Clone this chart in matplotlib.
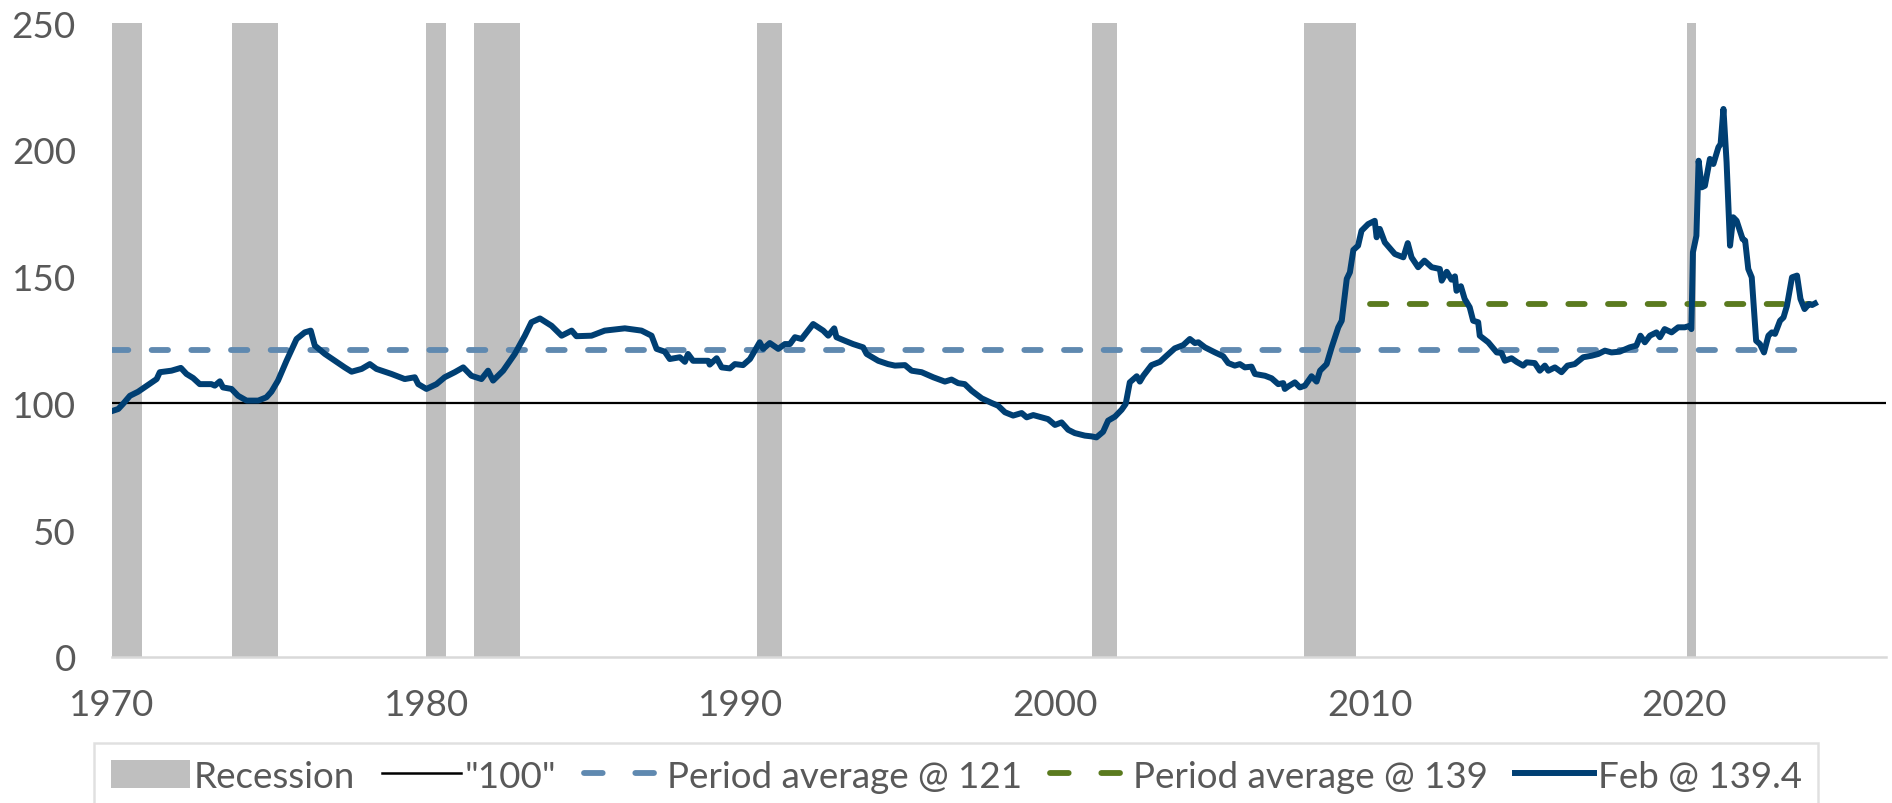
import matplotlib.pyplot as plt
from matplotlib.patches import Patch
from matplotlib.lines import Line2D

plt.rcParams['font.family'] = ['Lato', 'DejaVu Sans']

# monthly-ish readings of the index (decimal years)
years = [1970.03, 1970.2, 1970.35, 1970.57, 1970.83, 1971.15, 1971.42, 1971.52, 1971.89, 1972.19,
         1972.37, 1972.58, 1972.79, 1973.16, 1973.27, 1973.43, 1973.53, 1973.8, 1974.01, 1974.28,
         1974.65, 1974.91, 1975.07, 1975.28, 1975.55, 1975.87, 1976.13, 1976.32, 1976.45, 1976.77,
         1977.09, 1977.4, 1977.62, 1977.94, 1978.2, 1978.41, 1978.89, 1979.31, 1979.63, 1979.74,
         1980.0, 1980.32, 1980.58, 1980.9, 1981.17, 1981.43, 1981.75, 1981.96, 1982.12, 1982.44,
         1982.81, 1983.13, 1983.34, 1983.61, 1983.98, 1984.3, 1984.62, 1984.77, 1985.25, 1985.67,
         1986.31, 1986.84, 1987.16, 1987.32, 1987.58, 1987.74, 1988.06, 1988.22, 1988.32, 1988.48,
         1988.96, 1989.01, 1989.23, 1989.39, 1989.65, 1989.81, 1990.07, 1990.29, 1990.6, 1990.71,
         1990.92, 1991.19, 1991.4, 1991.56, 1991.72, 1991.93, 1992.3, 1992.62, 1992.78, 1992.97,
         1993.04, 1993.31, 1993.57, 1993.89, 1994.0, 1994.37, 1994.68, 1994.9, 1995.22, 1995.43,
         1995.75, 1996.12, 1996.49, 1996.7, 1996.91, 1997.12, 1997.34, 1997.66, 1997.97, 1998.18,
         1998.4, 1998.66, 1998.93, 1999.09, 1999.3, 1999.56, 1999.77, 1999.99, 2000.2, 2000.41,
         2000.62, 2000.94, 2001.15, 2001.31, 2001.52, 2001.68, 2001.9, 2002.11, 2002.24, 2002.37,
         2002.59, 2002.69, 2002.8, 2003.06, 2003.33, 2003.54, 2003.8, 2004.07, 2004.28, 2004.44,
         2004.55, 2004.76, 2005.08, 2005.34, 2005.5, 2005.71, 2005.87, 2006.03, 2006.24, 2006.35,
         2006.67, 2006.88, 2007.09, 2007.25, 2007.3, 2007.41, 2007.62, 2007.78, 2007.94, 2008.15,
         2008.31, 2008.42, 2008.63, 2008.79, 2009.0, 2009.11, 2009.27, 2009.37, 2009.48, 2009.63,
         2009.74, 2009.95, 2010.16, 2010.22, 2010.32, 2010.48, 2010.8, 2011.07, 2011.21, 2011.33,
         2011.54, 2011.74, 2011.97, 2012.23, 2012.29, 2012.45, 2012.6, 2012.71, 2012.76, 2012.9,
         2013.02, 2013.18, 2013.29, 2013.45, 2013.5, 2013.77, 2014.04, 2014.19, 2014.3, 2014.51,
         2014.67, 2014.88, 2014.99, 2015.25, 2015.41, 2015.57, 2015.68, 2015.89, 2016.1, 2016.29,
         2016.52, 2016.79, 2017.06, 2017.27, 2017.48, 2017.69, 2017.95, 2018.27, 2018.48, 2018.61,
         2018.75, 2018.91, 2019.12, 2019.23, 2019.38, 2019.6, 2019.81, 2020.02, 2020.18, 2020.23,
         2020.28, 2020.39, 2020.46, 2020.56, 2020.66, 2020.82, 2020.93, 2021.09, 2021.16, 2021.25,
         2021.35, 2021.46, 2021.56, 2021.67, 2021.86, 2021.94, 2022.04, 2022.15, 2022.29, 2022.41,
         2022.54, 2022.68, 2022.79, 2022.89, 2023.05, 2023.16, 2023.27, 2023.43, 2023.59, 2023.7,
         2023.83, 2023.97, 2024.07, 2024.16]
index = [97.1, 97.8, 99.8, 103.0, 104.6, 107.3, 109.6, 112.3, 112.9, 114.0,
         111.6, 110.0, 107.6, 107.6, 107.0, 108.7, 106.3, 105.7, 103.0, 101.1,
         101.1, 102.4, 104.6, 109.0, 116.8, 125.4, 128.0, 128.7, 122.8, 119.5,
         116.8, 114.2, 112.5, 113.6, 115.5, 113.6, 111.6, 109.6, 110.3, 107.6,
         105.7, 107.6, 110.3, 112.3, 114.2, 110.9, 109.6, 112.9, 109.0, 112.9,
         119.5, 126.7, 132.0, 133.5, 130.6, 126.7, 128.7, 126.5, 126.7, 128.7,
         129.6, 128.7, 126.7, 121.5, 120.4, 117.5, 118.2, 116.4, 119.5, 116.8,
         116.8, 115.3, 117.8, 114.2, 113.8, 115.5, 115.1, 117.5, 124.1, 121.5,
         123.8, 121.5, 123.4, 123.4, 126.1, 125.4, 131.3, 128.7, 126.7, 129.6,
         126.1, 124.7, 123.4, 122.1, 119.5, 116.8, 115.5, 114.9, 115.1, 112.9,
         112.3, 110.3, 108.6, 109.4, 108.0, 107.6, 105.0, 102.0, 100.2, 99.1,
         96.5, 95.2, 96.2, 94.5, 95.4, 94.5, 93.8, 91.5, 92.5, 89.6,
         88.3, 87.3, 87.0, 86.6, 88.8, 93.2, 94.8, 97.5, 99.8, 108.3,
         110.7, 108.6, 110.9, 115.1, 116.4, 118.8, 121.7, 123.0, 125.4, 123.8,
         124.1, 122.1, 120.1, 118.6, 115.9, 114.9, 115.5, 114.2, 114.5, 111.6,
         110.9, 109.9, 107.6, 108.0, 105.7, 106.7, 108.3, 106.3, 107.0, 110.7,
         108.6, 112.9, 115.5, 122.1, 130.0, 132.6, 149.1, 151.7, 160.5, 162.2,
         168.1, 170.7, 172.0, 165.5, 168.8, 163.5, 158.9, 157.6, 163.2, 157.6,
         153.7, 156.3, 153.7, 153.0, 148.4, 151.9, 148.8, 150.1, 144.4, 146.2,
         141.2, 137.9, 132.6, 132.0, 126.7, 124.1, 120.1, 119.9, 116.8, 117.8,
         116.4, 114.9, 116.2, 115.9, 112.9, 114.9, 112.9, 114.2, 112.3, 114.9,
         115.5, 118.2, 118.8, 119.5, 120.8, 120.1, 120.4, 122.1, 122.8, 126.7,
         124.1, 126.7, 128.0, 126.1, 129.3, 128.0, 130.0, 130.0, 130.6, 129.3,
         159.6, 166.1, 195.7, 185.2, 185.8, 196.4, 194.4, 201.0, 202.3, 216.1,
         195.1, 162.2, 173.4, 172.0, 164.8, 164.2, 153.0, 149.7, 124.7, 123.4,
         120.1, 126.7, 128.0, 127.4, 132.6, 133.9, 138.5, 149.7, 150.4, 141.2,
         137.2, 139.2, 138.8, 139.4]

rec_start = [1970.0, 1973.83, 1980.0, 1981.5, 1990.5, 2001.17, 2007.92, 2020.08]
rec_end = [1970.97, 1975.28, 1980.62, 1982.97, 1991.3, 2001.96, 2009.55, 2020.38]

avg_all = 121
avg_recent = 139
recent_from = 2010.0

c_line = '#003F73'
c_avg1 = '#5F89B0'
c_avg2 = '#5A7A1E'
c_rec = '#BFBFBF'
c_txt = '#595959'

fig = plt.figure(figsize=(18.92, 8.04), dpi=100)
ax = fig.add_axes([112 / 1892, 1 - 658 / 804, (1886 - 112) / 1892, (658 - 24) / 804])

for s, e in zip(rec_start, rec_end):
    ax.axvspan(s, e, ymin=0, ymax=1, color=c_rec, lw=0, zorder=1)

dash = (2.8, 4.0)
ax.axhline(100, color='black', lw=1.6, zorder=2)
ax.plot([1970.0, 2024.0], [avg_all, avg_all], color=c_avg1, lw=4.2,
        dashes=dash, dash_capstyle='round', zorder=3)
ax.plot([recent_from, 2024.0], [avg_recent, avg_recent], color=c_avg2, lw=4.2,
        dashes=dash, dash_capstyle='round', zorder=3)
ax.plot(years, index, color=c_line, lw=4.3, solid_joinstyle='round', zorder=4)

ax.set_xlim(1970, 2026.42)
ax.set_ylim(0, 250)
ax.set_xticks(range(1970, 2021, 10))
ax.set_yticks(range(0, 251, 50))
ax.tick_params(axis='both', length=0, labelsize=26.5, colors=c_txt)
ax.tick_params(axis='x', pad=22)
ax.tick_params(axis='y', pad=26)
for side in ['top', 'right', 'left']:
    ax.spines[side].set_visible(False)
ax.spines['bottom'].set_color('#D9D9D9')
ax.spines['bottom'].set_linewidth(1.8)

leg_dash = (3.2, 5.6)
handles = [
    Patch(facecolor=c_rec, edgecolor='none'),
    Line2D([], [], color='black', lw=1.8),
    Line2D([], [], color=c_avg1, lw=4.2, dashes=leg_dash, dash_capstyle='round'),
    Line2D([], [], color=c_avg2, lw=4.2, dashes=leg_dash, dash_capstyle='round'),
    Line2D([], [], color=c_line, lw=4.3),
]
labels = ['Recession', '"100"', 'Period average @ 121', 'Period average @ 139', 'Feb @ 139.4']
leg = fig.legend(handles, labels, loc='upper left', bbox_to_anchor=(94 / 1892, 1 - 744 / 804),
                 borderaxespad=0, ncol=5, fontsize=26.5, frameon=True, fancybox=False,
                 handlelength=2.15, handleheight=0.8, handletextpad=0.1, columnspacing=0.75,
                 borderpad=0.45, labelcolor=c_txt)
leg.get_frame().set_edgecolor('#D9D9D9')
leg.get_frame().set_linewidth(1.8)

fig.savefig('out.png', dpi=100)
